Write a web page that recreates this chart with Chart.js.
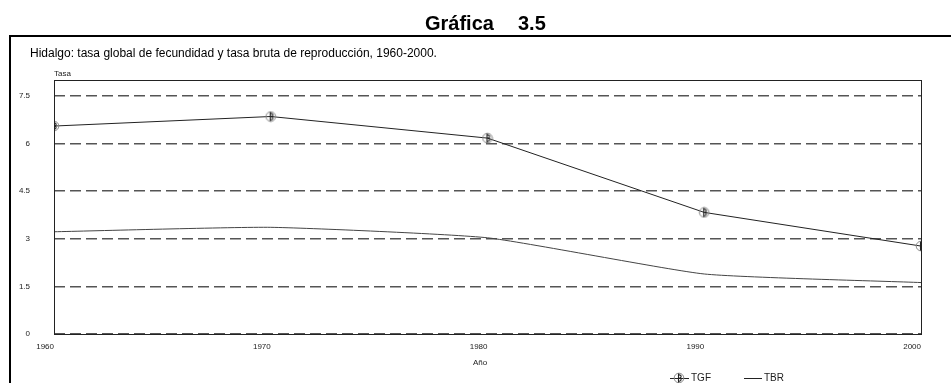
<!DOCTYPE html>
<html>
<head>
<meta charset="utf-8">
<script src="https://cdn.jsdelivr.net/npm/chart.js@4/dist/chart.umd.min.js"></script>
<style>
  html, body { margin: 0; padding: 0; background: #fff; }
  #wrap { position: relative; width: 951px; height: 383px; }
</style>
</head>
<body>
<div id="wrap"><canvas id="c" width="951" height="383"></canvas></div>
<script>
// Años censales
const years = [1960, 1970, 1980, 1990, 2000];
// Tasa global de fecundidad
const tgf = [6.55, 6.85, 6.17, 3.83, 2.77];
// Tasa bruta de reproducción
const tbr = [3.22, 3.36, 3.03, 1.89, 1.62];
// Marcas del eje de la tasa
const yTicks = [0, 1.5, 3, 4.5, 6, 7.5];

const FONT = '"Liberation Sans", Arial, sans-serif';

// Marcador circular con trazo interior
function makeMarker() {
  const m = document.createElement('canvas');
  m.width = 12; m.height = 12;
  const g = m.getContext('2d');
  g.strokeStyle = '#888';
  g.lineWidth = 1;
  g.beginPath(); g.arc(6, 6, 4.8, 0, Math.PI * 2); g.stroke();
  g.strokeStyle = '#222';
  g.lineWidth = 1.1;
  g.beginPath(); g.arc(6.5, 4.5, 1.6, -Math.PI * 0.8, Math.PI * 0.5); g.stroke();
  g.beginPath(); g.arc(6.5, 7.6, 1.6, -Math.PI * 0.5, Math.PI * 0.8); g.stroke();
  g.beginPath(); g.moveTo(5.5, 1.5); g.lineTo(5.5, 10.5); g.stroke();
  return m;
}
const marker = makeMarker();

// Texto, marco y leyenda alrededor del gráfico
const decor = {
  id: 'decor',
  afterDraw(chart) {
    const ctx = chart.ctx;
    const a = chart.chartArea;
    ctx.save();
    // encabezado
    ctx.fillStyle = '#000';
    ctx.font = 'bold 20px ' + FONT;
    ctx.textBaseline = 'alphabetic';
    ctx.textAlign = 'left';
    ctx.fillText('Gráfica', 425, 30);
    ctx.fillText('3.5', 518, 30);
    // marco
    ctx.fillRect(9, 35, 942, 2);
    ctx.fillRect(9, 35, 2, 348);
    // subtítulo
    ctx.font = '12px ' + FONT;
    ctx.fillText('Hidalgo: tasa global de fecundidad y tasa bruta de reproducción, 1960-2000.', 30, 57);
    // títulos de ejes
    ctx.font = '8px ' + FONT;
    ctx.fillStyle = '#222';
    ctx.fillText('Tasa', a.left, 76);
    ctx.fillText('Año', 473, 365);
    // borde del área de trazado
    ctx.strokeStyle = '#222';
    ctx.lineWidth = 1;
    ctx.strokeRect(a.left + 0.5, a.top + 0.5, a.right - a.left, a.bottom - a.top);
    // leyenda
    const ly = 378;
    ctx.font = '10px ' + FONT;
    ctx.textBaseline = 'middle';
    ctx.strokeStyle = '#222';
    ctx.beginPath(); ctx.moveTo(670, ly + 0.5); ctx.lineTo(689, ly + 0.5); ctx.stroke();
    ctx.drawImage(marker, 673, ly - 6);
    ctx.fillText(chart.data.datasets[0].label, 691, ly);
    ctx.beginPath(); ctx.moveTo(744, ly + 0.5); ctx.lineTo(762, ly + 0.5); ctx.stroke();
    ctx.fillText(chart.data.datasets[1].label, 764, ly);
    ctx.restore();
  }
};

new Chart(document.getElementById('c'), {
  type: 'line',
  data: {
    datasets: [
      {
        label: 'TGF',
        data: years.map((x, i) => ({ x, y: tgf[i] })),
        borderColor: '#222',
        borderWidth: 1,
        pointStyle: marker,
        pointRadius: 5,
        tension: 0
      },
      {
        label: 'TBR',
        data: years.map((x, i) => ({ x, y: tbr[i] })),
        borderColor: '#444',
        borderWidth: 1,
        pointRadius: 0,
        tension: 0.15
      }
    ]
  },
  options: {
    responsive: false,
    animation: false,
    devicePixelRatio: 1,
    layout: { padding: { left: 10, top: 80, right: 30, bottom: 0 } },
    plugins: { legend: { display: false }, tooltip: { enabled: false }, title: { display: false } },
    scales: {
      x: {
        type: 'linear',
        min: 1960, max: 2000,
        afterBuildTicks(s) { s.ticks = years.map(v => ({ value: v })); },
        afterFit(s) { s.height = 49; },
        grid: { display: false, drawTicks: false },
        border: { display: false },
        ticks: {
          align: 'end', padding: 8, maxRotation: 0, autoSkip: false,
          color: '#222', font: { family: FONT, size: 8 },
          callback: v => String(v)
        }
      },
      y: {
        min: 0, max: 8,
        afterBuildTicks(s) { s.ticks = yTicks.map(v => ({ value: v })); },
        afterFit(s) { s.width = 44; },
        grid: { drawTicks: false, color: '#555', lineWidth: 1.4 },
        border: { display: false, dash: [11, 5] },
        ticks: {
          padding: 24, color: '#222', font: { family: FONT, size: 8 },
          callback: v => String(v)
        }
      }
    }
  },
  plugins: [decor]
});
</script>
</body>
</html>
